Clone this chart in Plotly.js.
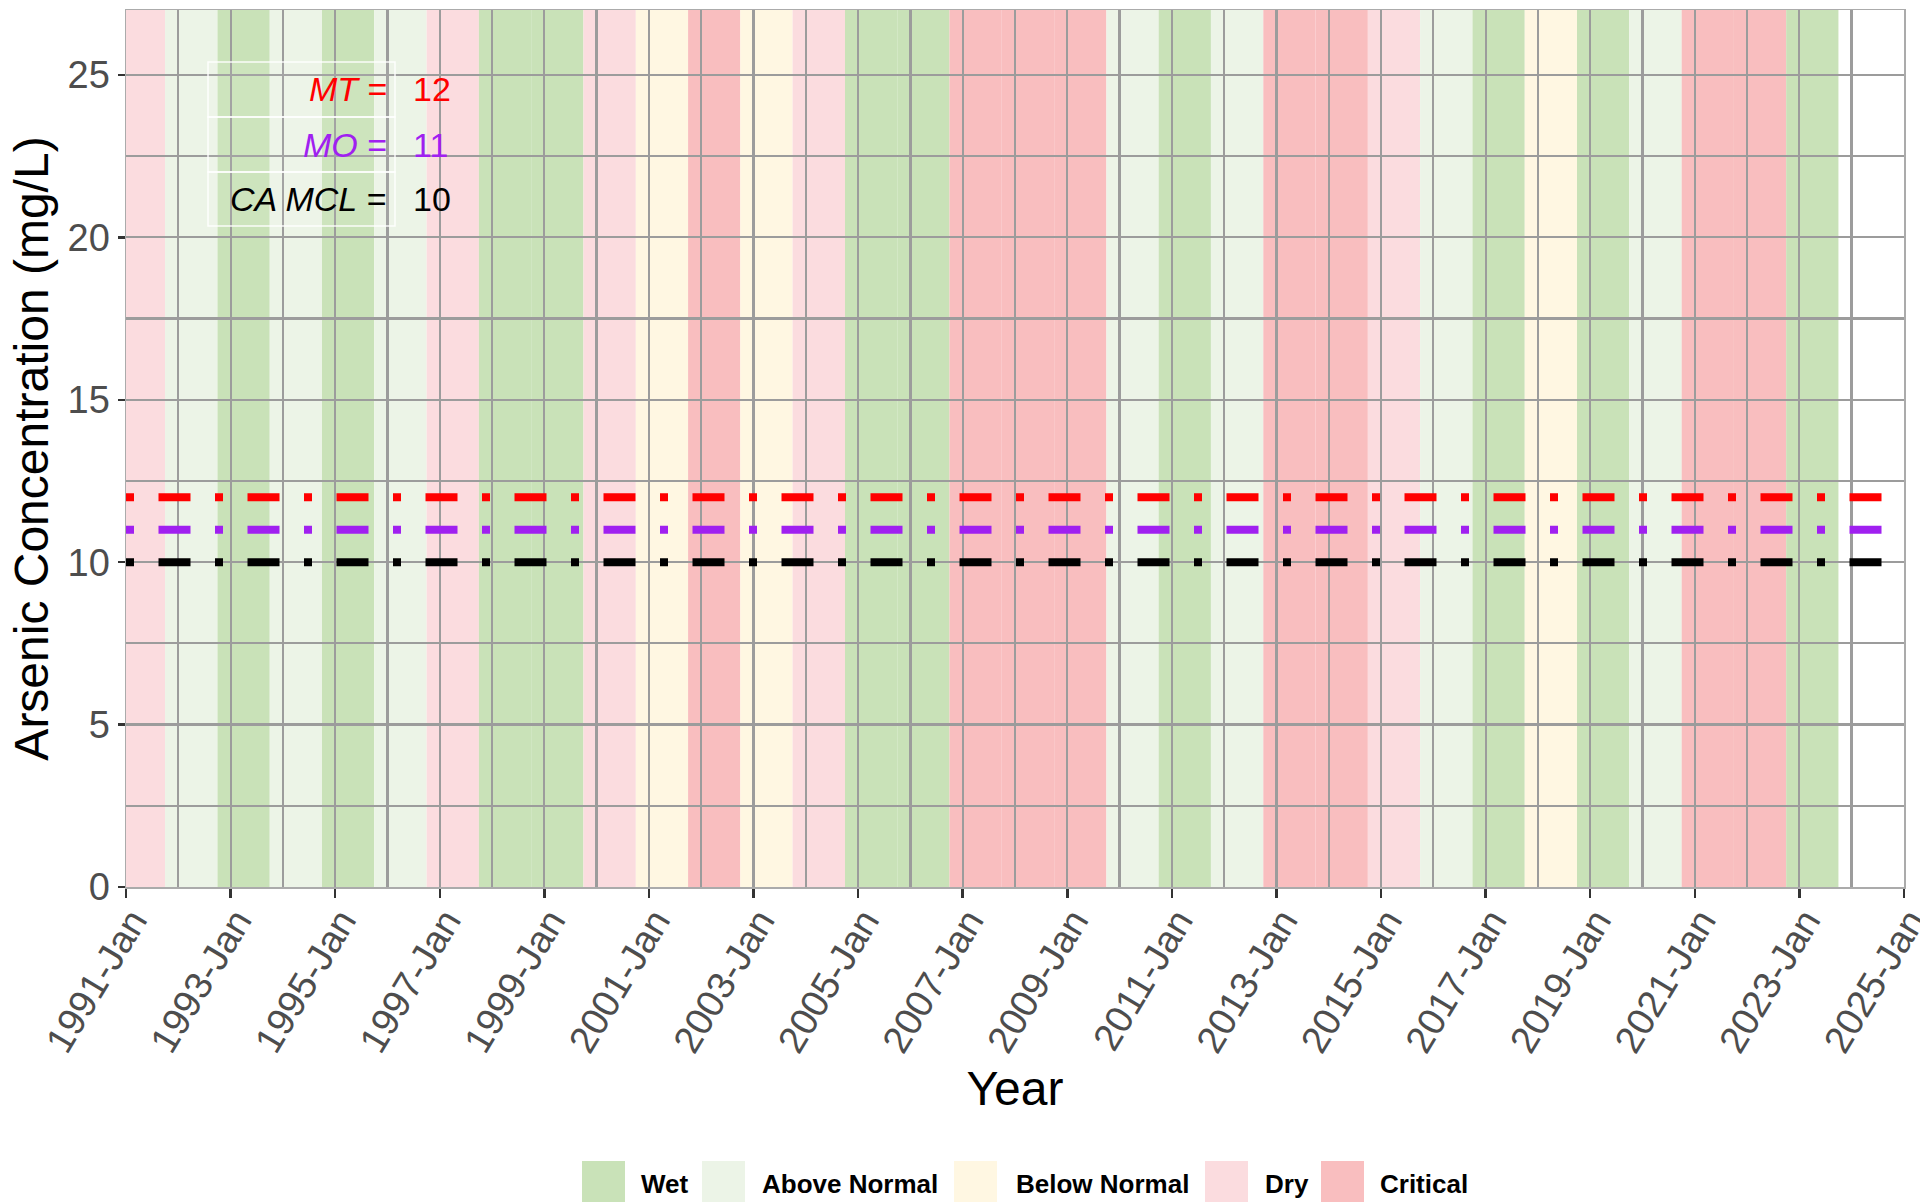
<!DOCTYPE html>
<html><head><meta charset="utf-8">
<script src="https://cdn.plot.ly/plotly-3.0.1.min.js"></script>
<style>html,body{margin:0;padding:0;background:#fff}#chart{width:1920px;height:1202px}</style>
</head><body><div id="chart"></div>
<script>
// Water years (Oct 1 of previous year to Oct 1) and their classification
const waterYears = [1991,1992,1993,1994,1995,1996,1997,1998,1999,2000,2001,2002,2003,2004,2005,2006,2007,2008,2009,2010,2011,2012,2013,2014,2015,2016,2017,2018,2019,2020,2021,2022,2023];
const yearTypes = ['Dry','Above Normal','Wet','Above Normal','Wet','Above Normal','Dry','Wet','Wet','Dry','Below Normal','Critical','Below Normal','Dry','Wet','Wet','Critical','Critical','Critical','Above Normal','Wet','Above Normal','Critical','Critical','Dry','Above Normal','Wet','Below Normal','Wet','Above Normal','Critical','Critical','Wet'];
const typeNames = ['Wet','Above Normal','Below Normal','Dry','Critical'];
const typeColors = ['#C9E2B8','#ECF4E7','#FFF7E2','#FBDCDF','#F9BEBF'];

// Threshold lines
const thrLabels = ['MT','MO','CA MCL'];
const thrValues = [12,11,10];
const thrColors = ['#FF0000','#A020F0','#000000'];
const lineDates = ['1991-01-01','2025-01-01'];
const xRange = ['1991-01-01','2025-01-01'];
const yRange = [0,27];

const FONT = 'Liberation Sans, Arial, Helvetica, sans-serif';
const colorOf = t => typeColors[typeNames.indexOf(t)];

const shapes = [];
waterYears.forEach((wy,i)=>{
  shapes.push({type:'rect', xref:'x', yref:'y', layer:'below',
    x0:(wy-1)+'-10-01', x1:wy+'-10-01', y0:yRange[0], y1:yRange[1],
    fillcolor:colorOf(yearTypes[i]), line:{width:0}});
});

const traces = thrValues.map((v,i)=>({
  type:'scatter', mode:'lines', x:lineDates, y:[v,v],
  line:{color:thrColors[i], width:8, dash:'8px,24.5px,32px,24.5px'},
  showlegend:false, hoverinfo:'skip'
}));

// plot area geometry (paper coords helper)
const L=126, R=1904, T=10, B=887;
const px = X => (X-L)/(R-L);
const py = Y => (B-Y)/(B-T);

const annotations = [];
// threshold table
const rowEdges = [62,117,172,226];
thrLabels.forEach((lab,i)=>{
  const yc = py((rowEdges[i]+rowEdges[i+1])/2);
  shapes.push({type:'rect', xref:'paper', yref:'paper', layer:'above',
    x0:px(208), x1:px(395), y0:py(rowEdges[i+1]), y1:py(rowEdges[i]),
    fillcolor:'rgba(255,255,255,0.08)', line:{color:'rgba(255,255,255,0.9)', width:1.5}});
  annotations.push({xref:'paper', yref:'paper', x:px(389), y:yc, xanchor:'right', yanchor:'middle',
    text:'<i>'+lab+'</i> =', showarrow:false, font:{family:FONT, size:34, color:thrColors[i]}});
  annotations.push({xref:'paper', yref:'paper', x:px(411), y:yc, xanchor:'left', yanchor:'middle',
    text:String(thrValues[i]), showarrow:false, font:{family:FONT, size:34, color:thrColors[i]}});
});

// manual legend
const legSw = [582,702,954,1205,1321];
const legTx = [639,760,1014,1263,1378];
typeNames.forEach((n,i)=>{
  shapes.push({type:'rect', xref:'paper', yref:'paper', layer:'above',
    x0:px(legSw[i]), x1:px(legSw[i]+43), y0:py(1206), y1:py(1161),
    fillcolor:typeColors[i], line:{width:0}});
  annotations.push({xref:'paper', yref:'paper', x:px(legTx[i]), y:py(1184), xanchor:'left', yanchor:'middle',
    text:'<b>'+n+'</b>', showarrow:false, font:{family:FONT, size:26, color:'#000'}});
});

const gridC = '#9c9c9c';
const layout = {
  width:1920, height:1202,
  margin:{l:L, r:1920-R, t:T, b:1202-B, autoexpand:false},
  paper_bgcolor:'#fff', plot_bgcolor:'#fff',
  showlegend:false,
  font:{family:FONT},
  xaxis:{type:'date', range:xRange, tickmode:'linear', tick0:'1991-01-01', dtick:'M24',
    tickformat:'%Y-%b', tickangle:-59, ticklabeloverflow:'allow',
    ticklabelstandoff:-14, ticklabelshift:6,
    tickfont:{family:FONT, size:38, color:'#4D4D4D'},
    ticks:'outside', ticklen:9, tickwidth:2.5, tickcolor:'#333',
    showgrid:true, gridcolor:gridC, gridwidth:2.2,
    minor:{tick0:'1991-01-01', dtick:'M12', showgrid:true, gridcolor:gridC, gridwidth:2.2, ticks:''},
    showline:true, mirror:true, linecolor:'#ababab', linewidth:1.5,
    zeroline:false, automargin:false,
    title:{text:'Year', font:{family:FONT, size:48, color:'#000'}, standoff:12}},
  yaxis:{range:yRange, tickmode:'linear', tick0:0, dtick:5,
    tickfont:{family:FONT, size:38, color:'#4D4D4D'},
    ticks:'outside', ticklen:7, tickwidth:2.5, tickcolor:'#333',
    showgrid:true, gridcolor:gridC, gridwidth:2.2,
    minor:{dtick:2.5, showgrid:true, gridcolor:gridC, gridwidth:2.2, ticks:''},
    showline:true, mirror:true, linecolor:'#ababab', linewidth:1.5,
    zeroline:false, automargin:false,
    title:{text:'Arsenic Concentration (mg/L)', font:{family:FONT, size:48, color:'#000'}, standoff:4}},
  shapes:shapes,
  annotations:annotations
};
Plotly.newPlot('chart', traces, layout, {displayModeBar:false, staticPlot:true});
</script>
</body></html>
